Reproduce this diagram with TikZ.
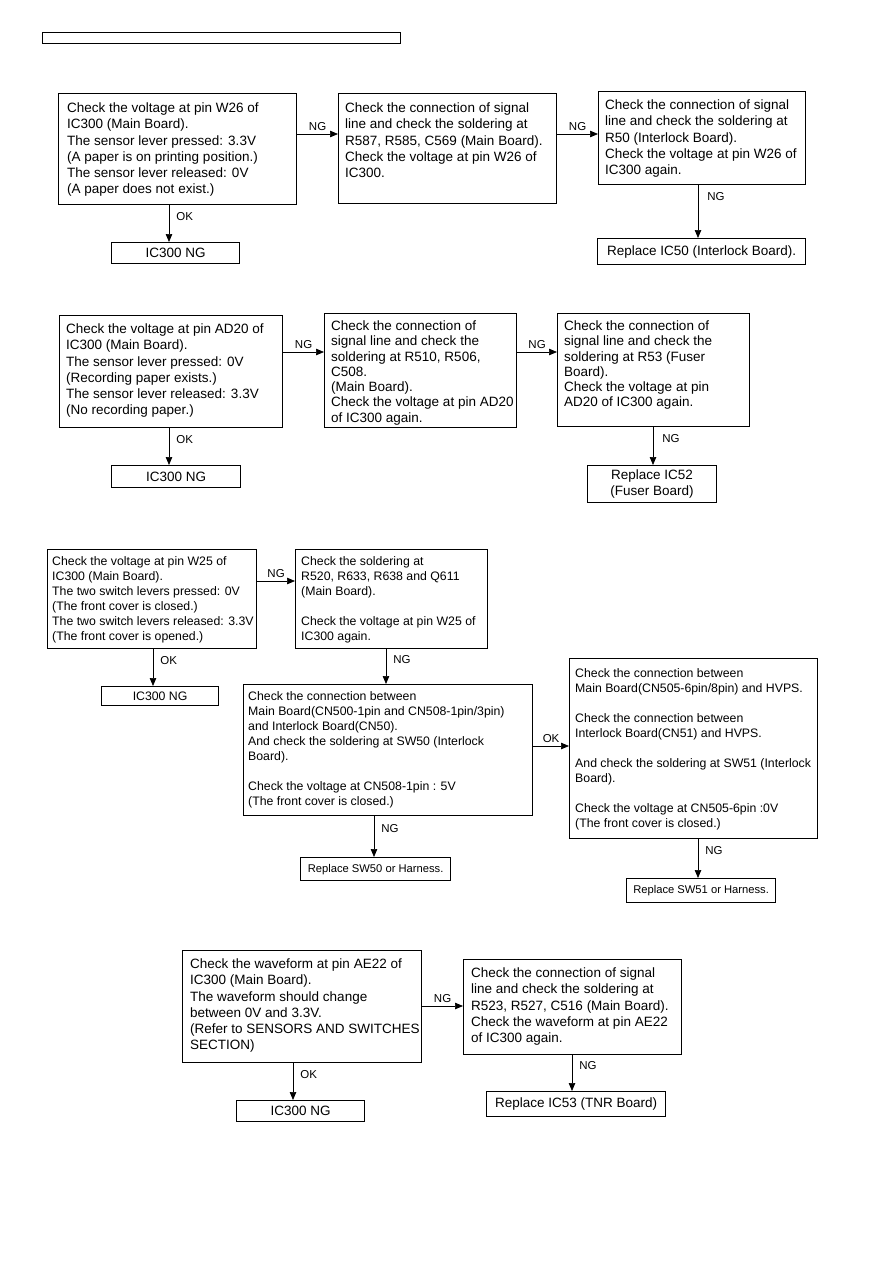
\documentclass[tikz,border=0pt]{standalone}
\usepackage{fontspec}
\setmainfont{Liberation Sans}
\usetikzlibrary{arrows.meta}
\tikzset{
  box/.style={draw=black, line width=1.2pt, inner sep=0pt, anchor=north west, fill=white},
  bigtxt/.style={inner sep=0pt, anchor=north west, align=left, font=\fontsize{13.5}{16.3}\selectfont},
  tighttxt/.style={inner sep=0pt, anchor=north west, align=left, font=\fontsize{13.5}{15.3}\selectfont},
  smalltxt/.style={inner sep=0pt, anchor=north west, align=left, font=\fontsize{12.3}{15}\selectfont},
  bigc/.style={font=\fontsize{13.5}{16.3}\selectfont, align=center},
  smallc/.style={font=\fontsize{12.3}{15}\selectfont, align=center},
  tinyc/.style={font=\fontsize{11.2}{13}\selectfont, align=center},
  arr/.style={draw=black, line width=0.7pt, -{Triangle[width=6.5pt,length=8pt]}},
  lbl/.style={font=\fontsize{11.5}{13}\selectfont, inner sep=1pt},
}
\begin{document}
\begin{tikzpicture}[x=1pt,y=-1pt]
\useasboundingbox (0,0) rectangle (893,1263);
\node[draw=black, line width=1pt, minimum width=358pt, minimum height=11pt, inner sep=0pt, anchor=north west] (hdr) at (42,32) {};

% ---------- Section 1 ----------
\node[box, minimum width=238pt, minimum height=111pt] (a1) at (58,93) {};
\node[bigtxt] (a1t) at (67,102.5) {Check the voltage at pin W26 of\\IC300 (Main Board).\\The sensor lever pressed: 3.3V\\(A paper is on printing position.)\\The sensor lever released: 0V\\(A paper does not exist.)};
\node[box, minimum width=218pt, minimum height=110pt] (b1) at (338,93) {};
\node[bigtxt] (b1t) at (345,102.5) {Check the connection of signal\\line and check the soldering at\\R587, R585, C569 (Main Board).\\Check the voltage at pin W26 of\\IC300.};
\node[box, minimum width=207pt, minimum height=93pt] (c1) at (598,91) {};
\node[bigtxt] (c1t) at (605,99.5) {Check the connection of signal\\line and check the soldering at\\R50 (Interlock Board).\\Check the voltage at pin W26 of\\IC300 again.};
\node[box, bigc, minimum width=128pt, minimum height=21pt] (ok1) at (111,242) {IC300 NG};
\node[box, bigc, minimum width=208pt, minimum height=26pt] (r1) at (597,238) {Replace IC50 (Interlock Board).};

\draw[arr] ([yshift=-41pt]a1.north east) coordinate (p1) -- (p1 -| b1.west) node[lbl, midway, above=2pt] (l1) {NG};
\draw[arr] ([yshift=-41pt]b1.north east) coordinate (p2) -- (p2 -| c1.west) node[lbl, midway, above=2pt] (l2) {NG};
\draw[arr] ([xshift=111pt]a1.south west) coordinate (p3) -- (p3 |- ok1.north) node[lbl, pos=0.3, right=6pt] (l3) {OK};
\draw[arr] ([xshift=100pt]c1.south west) coordinate (p4) -- (p4 |- r1.north) node[lbl, pos=0.22, right=8pt] (l4) {NG};

% ---------- Section 2 ----------
\node[box, minimum width=223pt, minimum height=112pt] (a2) at (59,315) {};
\node[bigtxt] (a2t) at (66,323.5) {Check the voltage at pin AD20 of\\IC300 (Main Board).\\The sensor lever pressed: 0V\\(Recording paper exists.)\\The sensor lever released: 3.3V\\(No recording paper.)};
\node[box, minimum width=192pt, minimum height=114pt] (b2) at (324,313) {};
\node[tighttxt] (b2t) at (331,320.5) {Check the connection of\\signal line and check the\\soldering at R510, R506,\\C508.\\(Main Board).\\Check the voltage at pin AD20\\of IC300 again.};
\node[box, minimum width=192pt, minimum height=113pt] (c2) at (557,313) {};
\node[tighttxt] (c2t) at (564,320.5) {Check the connection of\\signal line and check the\\soldering at R53 (Fuser\\Board).\\Check the voltage at pin\\AD20 of IC300 again.};
\node[box, bigc, minimum width=129pt, minimum height=22pt] (ok2) at (111,465) {IC300 NG};
\node[box, bigc, minimum width=129pt, minimum height=37pt] (r2) at (587,465) {Replace IC52\\(Fuser Board)};

\draw[arr] ([yshift=-37pt]a2.north east) coordinate (q1) -- (q1 -| b2.west) node[lbl, midway, above=2pt] (m1) {NG};
\draw[arr] ([yshift=-39pt]b2.north east) coordinate (q2) -- (q2 -| c2.west) node[lbl, midway, above=2pt] (m2) {NG};
\draw[arr] ([xshift=110pt]a2.south west) coordinate (q3) -- (q3 |- ok2.north) node[lbl, pos=0.3, right=6pt] (m3) {OK};
\draw[arr] ([xshift=96pt]c2.south west) coordinate (q4) -- (q4 |- r2.north) node[lbl, pos=0.3, right=8pt] (m4) {NG};

% ---------- Section 3 ----------
\node[box, minimum width=209pt, minimum height=99pt] (a3) at (47,549) {};
\node[smalltxt] (a3t) at (52,556.5) {Check the voltage at pin W25 of\\IC300 (Main Board).\\The two switch levers pressed: 0V\\(The front cover is closed.)\\The two switch levers released: 3.3V\\(The front cover is opened.)};
\node[box, minimum width=192pt, minimum height=99pt] (b3) at (295,549) {};
\node[smalltxt] (b3t) at (301,556.5) {Check the soldering at\\R520, R633, R638 and Q611\\(Main Board).\\[15pt]Check the voltage at pin W25 of\\IC300 again.};
\node[box, smallc, minimum width=117pt, minimum height=19pt] (ok3) at (101,686) {IC300 NG};
\node[box, minimum width=289pt, minimum height=131pt] (d3) at (243,684) {};
\node[smalltxt] (d3t) at (248,691) {Check the connection between\\Main Board(CN500-1pin and CN508-1pin/3pin)\\and Interlock Board(CN50).\\And check the soldering at SW50 (Interlock\\Board).\\[15pt]Check the voltage at CN508-1pin : 5V\\(The front cover is closed.)};
\node[box, minimum width=248pt, minimum height=180pt] (e3) at (569,658) {};
\node[smalltxt] (e3t) at (575,668) {Check the connection between\\Main Board(CN505-6pin/8pin) and HVPS.\\[15pt]Check the connection between\\Interlock Board(CN51) and HVPS.\\[15pt]And check the soldering at SW51 (Interlock\\Board).\\[15pt]Check the voltage at CN505-6pin :0V\\(The front cover is closed.)};
\node[box, tinyc, minimum width=150pt, minimum height=23pt] (r3a) at (300,857) {Replace SW50 or Harness.};
\node[box, tinyc, minimum width=149pt, minimum height=24pt] (r3b) at (626,878) {Replace SW51 or Harness.};

\draw[arr] ([yshift=-32pt]a3.north east) coordinate (s1) -- (s1 -| b3.west) node[lbl, midway, above=2pt] (n1) {NG};
\draw[arr] ([xshift=106pt]a3.south west) coordinate (s2) -- (s2 |- ok3.north) node[lbl, pos=0.3, right=6pt] (n2) {OK};
\draw[arr] ([xshift=91pt]b3.south west) coordinate (s3) -- (s3 |- d3.north) node[lbl, pos=0.3, right=6pt] (n3) {NG};
\draw[arr] ([yshift=-62pt]d3.north east) coordinate (s4) -- (s4 -| e3.west) node[lbl, midway, above=2pt] (n4) {OK};
\draw[arr] ([xshift=131pt]d3.south west) coordinate (s5) -- (s5 |- r3a.north) node[lbl, pos=0.3, right=6pt] (n5) {NG};
\draw[arr] ([xshift=129pt]e3.south west) coordinate (s6) -- (s6 |- r3b.north) node[lbl, pos=0.3, right=6pt] (n6) {NG};

% ---------- Section 4 ----------
\node[box, minimum width=239pt, minimum height=112pt] (a4) at (182,950) {};
\node[bigtxt] (a4t) at (190,958.5) {Check the waveform at pin AE22 of\\IC300 (Main Board).\\The waveform should change\\between 0V and 3.3V.\\(Refer to SENSORS AND SWITCHES\\SECTION)};
\node[box, minimum width=218pt, minimum height=95pt] (b4) at (463,959) {};
\node[bigtxt] (b4t) at (471,967.5) {Check the connection of signal\\line and check the soldering at\\R523, R527, C516 (Main Board).\\Check the waveform at pin AE22\\of IC300 again.};
\node[box, bigc, minimum width=128pt, minimum height=21pt] (ok4) at (236,1100) {IC300 NG};
\node[box, bigc, minimum width=179pt, minimum height=25pt] (r4) at (486,1091) {Replace IC53 (TNR Board)};

\draw[arr] ([yshift=-56pt]a4.north east) coordinate (t1) -- (t1 -| b4.west) node[lbl, midway, above=2pt] (o1) {NG};
\draw[arr] ([xshift=111pt]a4.south west) coordinate (t2) -- (t2 |- ok4.north) node[lbl, pos=0.3, right=6pt] (o2) {OK};
\draw[arr] ([xshift=109pt]b4.south west) coordinate (t3) -- (t3 |- r4.north) node[lbl, pos=0.3, right=6pt] (o3) {NG};
\end{tikzpicture}
\end{document}
